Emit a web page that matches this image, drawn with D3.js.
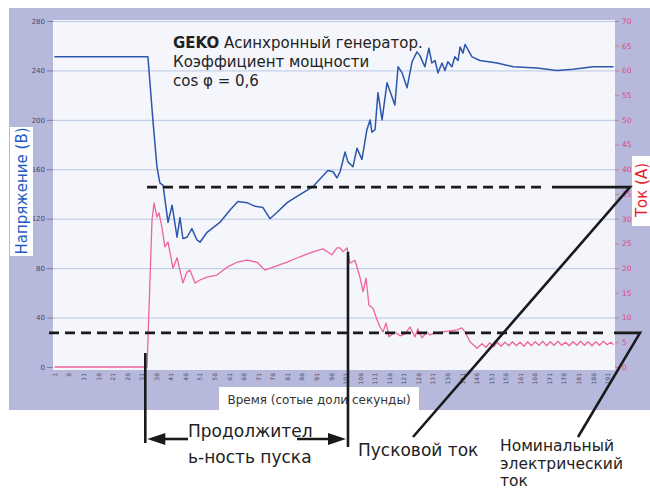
<!DOCTYPE html>
<html>
<head>
<meta charset="utf-8">
<script src="https://cdn.jsdelivr.net/npm/d3@7"></script>
<style>
  body { margin: 0; background: #fff; }
  svg { display: block; font-family: 'DejaVu Sans', Verdana, sans-serif; }
</style>
</head>
<body>
<svg id="chart" width="650" height="490"></svg>
<script>
// x tick labels (sample numbers, hundredths of a second)
const xTickLabels = [1, 6, 11, 16, 21, 26, 31, 36, 41, 46, 51, 56, 61, 66, 71, 76, 81, 86, 91, 96,
  101, 106, 111, 116, 121, 126, 131, 136, 141, 146, 151, 156, 161, 166, 171, 176, 181, 186, 191]
const voltageTicks = [0, 40, 80, 120, 160, 200, 240, 280]
const currentTicks = [0, 5, 10, 15, 20, 25, 30, 35, 40, 45, 50, 55, 60, 65, 70]

// voltage (V)
const voltT = [1, 33.1, 34.8, 36.2, 37.2, 38.3, 40.0, 41.4, 43.1, 44.1, 45.1, 46.5, 48.2, 49.9, 51.0,
  53.4, 57.8, 61.3, 64.0, 67.1, 69.9, 72.6, 75.0, 77.4, 80.9, 84.3, 89.8, 92.9, 94.9, 96.7, 98.0,
  99.1, 100.8, 101.8, 103.5, 104.9, 106.6, 108.3, 109.4, 110.0, 111.1, 112.1, 113.5, 115.2, 117.9,
  119.0, 120.4, 122.1, 123.8, 125.5, 126.5, 128.2, 129.6, 130.6, 131.7, 132.7, 134.1, 135.1, 136.1,
  137.5, 138.5, 139.6, 140.3, 141.3, 142.0, 144.4, 147.1, 153.0, 158.5, 166.7, 173.6, 179.1, 186.0,
  191.8, 193]
const voltV = [251, 251, 200, 162, 149, 147, 117, 131, 105, 121, 104, 105, 112, 103, 101,
  109, 117, 127, 134, 133, 130, 129, 120, 125, 133, 138, 146, 154, 159, 158, 153,
  158, 174, 166, 162, 177, 168, 192, 200, 190, 192, 222, 200, 230, 212,
  243, 238, 226, 247, 255, 252, 243, 258, 246, 248, 238, 246, 240, 247,
  243, 251, 248, 259, 254, 261, 251, 248, 246, 243, 242, 240, 241, 243,
  243, 243]

// current (A)
const currT = [1, 32.8, 34.5, 35.2, 36.2, 36.9, 37.9, 38.9, 40.0, 41.7, 43.1, 45.1, 46.5, 47.5, 49.3,
  51.0, 53.4, 56.8, 60.3, 63.7, 67.1, 70.6, 73.3, 76.1, 80.9, 85.3, 89.8, 93.2, 96.3, 98.0, 99.1,
  100.1, 101.5, 102.5, 104.2, 105.9, 107.0, 108.0, 109.0, 110.4, 111.8, 112.8, 113.8, 114.9, 115.9,
  117.9, 119.7, 121.4, 123.1, 124.8, 125.8, 127.2, 128.9, 129.9, 132.0, 134.4, 136.8, 139.2, 140.9,
  142.0, 143.7, 146.1, 147.8, 149.2, 150.5, 151.8, 153.1, 154.4, 155.7, 157.0, 158.3, 159.6, 160.9,
  162.2, 163.5, 164.8, 166.1, 167.4, 168.7, 170.0, 171.3, 172.6, 173.9, 175.2, 176.5, 177.8, 179.1,
  180.4, 181.7, 183.0, 184.3, 185.6, 186.9, 188.2, 189.5, 190.8, 192.1, 193]
const currA = [0, 0, 29.7, 33.2, 30.3, 31.2, 28.3, 24.3, 25.3, 20.0, 22.1, 17.0, 19.2, 19.6, 17.0,
  17.6, 18.2, 18.6, 20.2, 21.2, 21.6, 21.2, 19.6, 20.2, 21.2, 22.3, 23.3, 23.9, 22.7, 24.1, 24.1,
  23.3, 24.1, 21.0, 21.6, 18.2, 15.2, 18.0, 12.5, 11.9, 9.5, 8.1, 7.1, 8.9, 6.1,
  7.1, 6.3, 6.7, 8.1, 6.1, 7.7, 5.9, 7.1, 6.5, 6.9, 7.1, 7.3, 7.5, 7.9,
  7.1, 5.1, 3.8, 4.7, 4.0, 4.9, 4.1, 5.0, 4.2, 5.0, 4.3, 5.1, 4.3, 5.0,
  4.2, 5.1, 4.3, 5.1, 4.4, 5.2, 4.3, 5.1, 4.4, 5.2, 4.4, 5.0, 4.3, 5.1,
  4.4, 5.2, 4.4, 5.1, 4.3, 5.1, 4.4, 5.2, 4.5, 5.0, 4.5]

// annotation levels
const startCurrent = 36.4
const nominalCurrent = 6.9
const startWindow = [32.2, 101.8]

const svgElem = document.getElementById('chart')
const svg = d3.select(svgElem)

const plot = {left: 53, right: 615, top: 20, bottom: 370}
const x = d3.scaleLinear().domain([0.5, 193.5]).range([plot.left, plot.right])
const yV = d3.scaleLinear().domain([0, 280]).range([367, 21])
const yA = d3.scaleLinear().domain([0, 70]).range([367, 21])

// lavender panel + white plot area
svg.append('rect')
    .attr('x', 9).attr('y', 8)
    .attr('width', 641).attr('height', 402)
    .attr('fill', '#b6b8dc')
svg.append('rect')
    .attr('x', plot.left).attr('y', plot.top)
    .attr('width', plot.right - plot.left).attr('height', plot.bottom - plot.top)
    .attr('fill', '#f5f6fb')

// gridlines
svg.append('g')
    .attr('stroke', '#b9c7e6')
    .attr('stroke-width', 1)
  .selectAll('line')
  .data(voltageTicks.slice(1))
  .join('line')
    .attr('x1', plot.left)
    .attr('x2', plot.right)
    .attr('y1', d => yV(d) + 0.5)
    .attr('y2', d => yV(d) + 0.5)

// axes
const leftAxis = svg.append('g')
    .attr('transform', `translate(${plot.left},0)`)
    .call(d3.axisLeft(yV).tickValues(voltageTicks).tickSize(6).tickPadding(2))
leftAxis.select('.domain').remove()
leftAxis.selectAll('line').attr('stroke', '#7a7c98')
leftAxis.selectAll('text')
    .attr('font-size', 7)
    .attr('font-family', 'DejaVu Sans, sans-serif')
    .attr('fill', '#44466e')

const rightAxis = svg.append('g')
    .attr('transform', `translate(${plot.right},0)`)
    .call(d3.axisRight(yA).tickValues(currentTicks).tickSize(4).tickPadding(3))
rightAxis.select('.domain').remove()
rightAxis.selectAll('line').attr('stroke', '#d07aa0')
rightAxis.selectAll('text')
    .attr('font-size', 7.5)
    .attr('font-family', 'DejaVu Sans, sans-serif')
    .attr('fill', '#e2457f')

const bottomAxis = svg.append('g')
    .attr('transform', `translate(0,${plot.bottom})`)
    .call(d3.axisBottom(x).tickValues(xTickLabels).tickSize(0))
bottomAxis.select('.domain').remove()
bottomAxis.selectAll('text')
    .attr('font-size', 6)
    .attr('font-family', 'DejaVu Sans, sans-serif')
    .attr('fill', '#4a4c66')
    .attr('text-anchor', 'end')
    .attr('transform', 'rotate(-90)')
    .attr('x', -3)
    .attr('y', 0)
    .attr('dy', '0.32em')

// series
const voltData = voltT.map((t, i) => [t, voltV[i]])
const currData = currT.map((t, i) => [t, currA[i]])

svg.append('path')
    .datum(currData)
    .attr('fill', 'none')
    .attr('stroke', '#f0649c')
    .attr('stroke-width', 1.3)
    .attr('stroke-linejoin', 'round')
    .attr('d', d3.line().x(d => x(d[0])).y(d => yA(d[1])))

svg.append('path')
    .datum(voltData)
    .attr('fill', 'none')
    .attr('stroke', '#2c56ac')
    .attr('stroke-width', 1.5)
    .attr('stroke-linejoin', 'round')
    .attr('d', d3.line().x(d => x(d[0])).y(d => yV(d[1])))

// axis titles in white boxes
svg.append('rect').attr('x', 219).attr('y', 387).attr('width', 200).attr('height', 25).attr('fill', '#fff')
svg.append('text')
    .attr('x', 319).attr('y', 404)
    .attr('text-anchor', 'middle')
    .attr('font-size', 12)
    .attr('fill', '#333')
    .text('Время (сотые доли секунды)')

svg.append('rect').attr('x', 10).attr('y', 127).attr('width', 23).attr('height', 129).attr('fill', '#fff')
svg.append('text')
    .attr('transform', 'translate(27,191) rotate(-90)')
    .attr('text-anchor', 'middle')
    .attr('font-size', 15)
    .attr('fill', '#1f5cc4')
    .text('Напряжение (B)')

svg.append('rect').attr('x', 632).attr('y', 156).attr('width', 18).attr('height', 70).attr('fill', '#fff')
svg.append('text')
    .attr('transform', 'translate(647,190) rotate(-90)')
    .attr('text-anchor', 'middle')
    .attr('font-size', 15)
    .attr('fill', '#e82028')
    .text('Ток (A)')

// chart title
const title = svg.append('text')
    .attr('x', 173).attr('y', 48)
    .attr('font-size', 15)
    .attr('fill', '#222')
title.append('tspan').attr('font-weight', 'bold').text('GEKO')
title.append('tspan').text(' Асинхронный генератор.')
svg.append('text').attr('x', 173).attr('y', 67).attr('font-size', 15).attr('fill', '#222')
    .text('Коэффициент мощности')
svg.append('text').attr('x', 173).attr('y', 86).attr('font-size', 15).attr('fill', '#222')
    .text('cos φ = 0,6')

// annotations
const ann = svg.append('g')
    .attr('stroke', '#1a1a1a')
    .attr('stroke-width', 2.6)
    .attr('fill', 'none')

const yHi = yA(startCurrent)
const yLo = yA(nominalCurrent)
ann.append('line')
    .attr('x1', x(32.8)).attr('x2', 545)
    .attr('y1', yHi).attr('y2', yHi)
    .attr('stroke-dasharray', '10,6')
ann.append('polyline')
    .attr('points', `552,${yHi} 630,${yHi} 413,437`)
ann.append('line')
    .attr('x1', 49).attr('x2', 606)
    .attr('y1', yLo).attr('y2', yLo)
    .attr('stroke-dasharray', '10,6')
ann.append('polyline')
    .attr('points', `614,${yLo} 640,${yLo} 578,437`)

// start duration bracket
const bx0 = x(startWindow[0])
const bx1 = x(startWindow[1])
ann.append('line').attr('x1', bx0).attr('x2', bx0).attr('y1', 353).attr('y2', 443)
ann.append('line').attr('x1', bx1).attr('x2', bx1).attr('y1', yA(23.3)).attr('y2', 447)
ann.append('line').attr('x1', bx0 + 12).attr('x2', 188).attr('y1', 439).attr('y2', 439)
ann.append('line').attr('x1', 297).attr('x2', bx1 - 12).attr('y1', 439).attr('y2', 439)
svg.append('path')
    .attr('d', `M${bx0 + 2},439 L${bx0 + 20},433 L${bx0 + 20},445 Z`)
    .attr('fill', '#1a1a1a')
svg.append('path')
    .attr('d', `M${bx1 - 2},439 L${bx1 - 20},433 L${bx1 - 20},445 Z`)
    .attr('fill', '#1a1a1a')

const labels = [
  {x: 188, y: 437, t: 'Продолжител', s: 17},
  {x: 188, y: 463, t: 'ь-ность пуска', s: 17},
  {x: 358, y: 456, t: 'Пусковой ток', s: 17},
  {x: 500, y: 451, t: 'Номинальный', s: 15.5},
  {x: 500, y: 469, t: 'электрический', s: 15.5},
  {x: 500, y: 486, t: 'ток', s: 15.5}
]
svg.append('g')
  .selectAll('text')
  .data(labels)
  .join('text')
    .attr('x', d => d.x)
    .attr('y', d => d.y)
    .attr('font-size', d => d.s)
    .attr('fill', '#222')
    .text(d => d.t)
</script>
</body>
</html>
